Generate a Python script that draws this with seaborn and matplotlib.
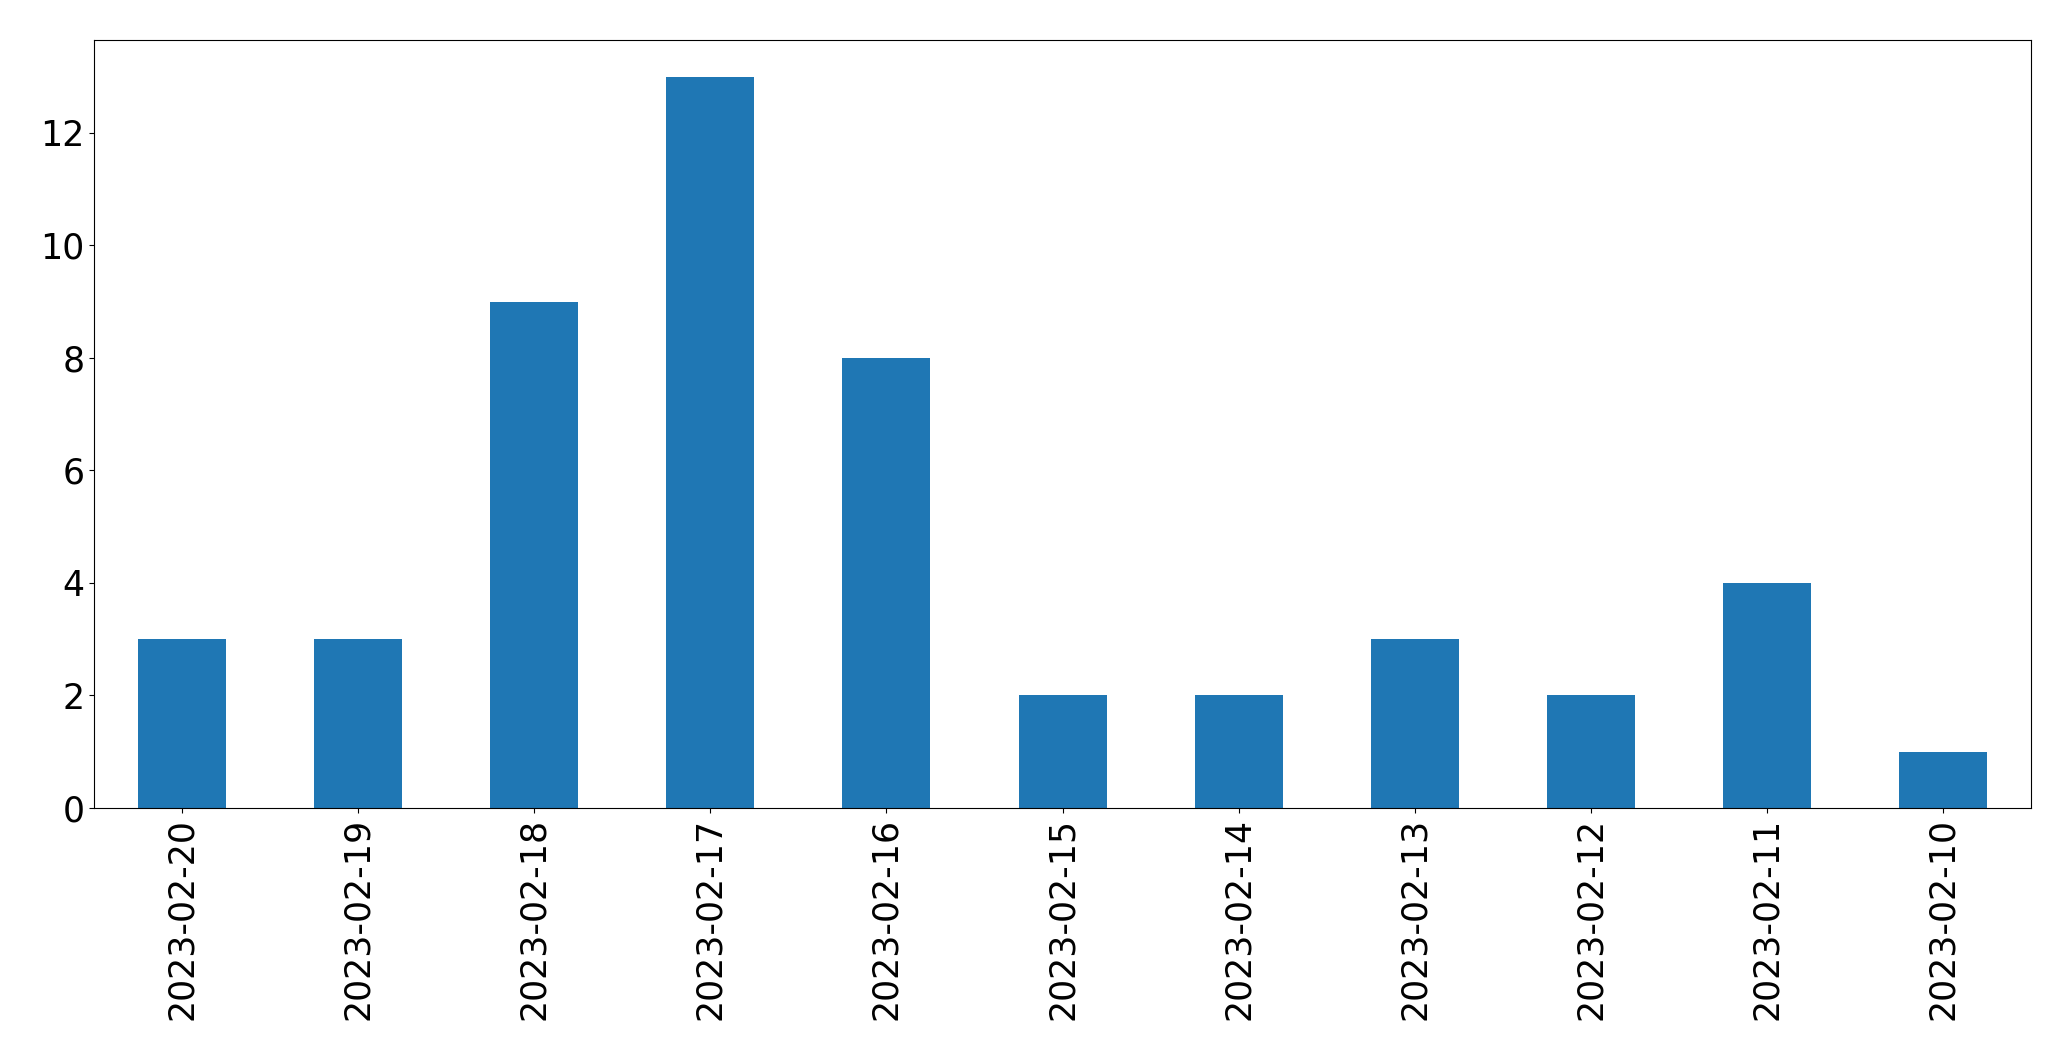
import matplotlib
matplotlib.use("Agg")
import matplotlib.pyplot as plt
import seaborn as sns
import pandas as pd

# daily counts, newest first
dates = ['2023-02-20', '2023-02-19', '2023-02-18', '2023-02-17', '2023-02-16',
         '2023-02-15', '2023-02-14', '2023-02-13', '2023-02-12', '2023-02-11',
         '2023-02-10']
counts = [3, 3, 9, 13, 8, 2, 2, 3, 2, 4, 1]

df = pd.DataFrame({'date': dates, 'count': counts})

fig = plt.figure(figsize=(20.71, 10.61), dpi=100)
ax = fig.add_axes([0.0454, 0.2385, 0.9353, 0.7238])

sns.barplot(data=df, x='date', y='count', color='#1f77b4', saturation=1,
            width=0.5, linewidth=0, ax=ax)

ax.set_xlim(-0.5, len(dates) - 0.5)
ax.set_ylim(0, max(counts) * 1.05)
ax.set_xlabel('')
ax.set_ylabel('')
ax.tick_params(axis='both', labelsize=25)
plt.setp(ax.get_xticklabels(), rotation=90)

fig.savefig('out.png', dpi=100)
